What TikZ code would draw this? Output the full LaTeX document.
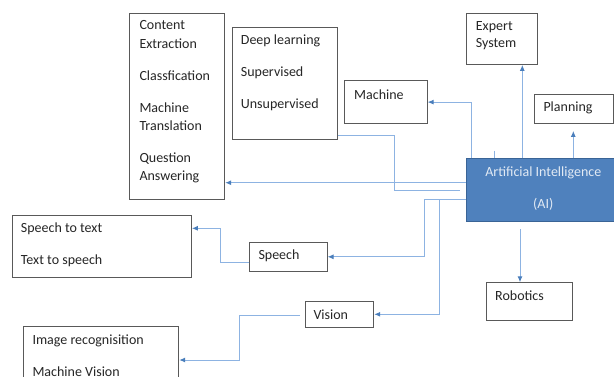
\documentclass[tikz,border=0pt]{standalone}
\usepackage{fontspec}
\setmainfont{Carlito}
\usetikzlibrary{arrows.meta,calc}
\definecolor{boxline}{HTML}{595959}
\definecolor{lineblue}{HTML}{8DB3E2}
\definecolor{arrowblue}{HTML}{4A7EBB}
\definecolor{aifill}{HTML}{4F81BD}
\definecolor{aiborder}{HTML}{3A6496}
\definecolor{aitext}{HTML}{E2EAF4}
\definecolor{textc}{HTML}{262626}
\tikzset{
  box/.style={draw=boxline, line width=0.9pt, fill=white, inner sep=0pt, anchor=north west},
  txt/.style={anchor=west, inner sep=0pt, text=textc, text height=9pt, text depth=0pt},
  conn/.style={draw=lineblue, line width=1pt, -{Latex[length=6pt,width=5pt,color=arrowblue]}},
  plain/.style={draw=lineblue, line width=1pt},
}
\begin{document}
\begin{tikzpicture}[x=1pt,y=-1pt,font=\fontsize{14}{16}\selectfont]
\useasboundingbox (0,0) rectangle (614,376);
% boxes
\node[box, minimum width=95pt, minimum height=186.3pt] (nlp) at (129.3,12.7) {};
\node[box, minimum width=105pt, minimum height=112pt] (deep) at (231.7,27.3) {};
\node[box, minimum width=82.7pt, minimum height=43.3pt] (machine) at (344,80) {};
\node[box, minimum width=70.7pt, minimum height=51.3pt] (expert) at (466,12.7) {};
\node[box, minimum width=78.7pt, minimum height=29.3pt] (planning) at (534,94) {};
\node[box, draw=aiborder, fill=aifill, line width=1.3pt, minimum width=155.3pt, minimum height=62.7pt] (ai) at (465.7,158) {};
\node[box, minimum width=179.3pt, minimum height=62.3pt] (stt) at (11.7,215) {};
\node[box, minimum width=77.4pt, minimum height=29.3pt] (speech) at (249.3,241.7) {};
\node[box, minimum width=68.3pt, minimum height=25.7pt] (vision) at (305,301) {};
\node[box, minimum width=86.6pt, minimum height=37.7pt] (robotics) at (485.7,282.3) {};
\node[box, minimum width=155.6pt, minimum height=60pt] (img) at (22.7,326) {};
% texts
\node[txt] (n1) at (139.3,25) {Content};
\node[txt] (n2) at (139.3,44) {Extraction};
\node[txt] (n3) at (139.3,76) {Classfication};
\node[txt] (n4) at (139.3,108) {Machine};
\node[txt] (n5) at (139.3,126) {Translation};
\node[txt] (n6) at (139.3,158) {Question};
\node[txt] (n7) at (139.3,176) {Answering};
\node[txt] (d1t) at (240.7,40) {Deep learning};
\node[txt] (d2t) at (240.7,71.5) {Supervised};
\node[txt] (d3t) at (240.7,103.5) {Unsupervised};
\node[txt] (mt) at (354,94.7) {Machine};
\node[txt] (e1) at (475.7,25.7) {Expert};
\node[txt] (e2) at (475.7,43.3) {System};
\node[txt] (pt) at (543.3,106.5) {Planning};
\node[inner sep=0pt, text=aitext] (ai1) at (543.3,173.3) {Artificial Intelligence};
\node[inner sep=0pt, text=aitext] (ai2) at (543.3,204) {(AI)};
\node[txt] (s1t) at (20.7,228) {Speech to text};
\node[txt] (s2t) at (20.7,259.5) {Text to speech};
\node[txt] (spt) at (258.3,255) {Speech};
\node[txt] (vt) at (313.3,315) {Vision};
\node[txt] (i1) at (32.3,339.5) {Image recognisition};
\node[txt] (i2) at (32.3,371.5) {Machine Vision};
\node[txt] (rt) at (495,295.7) {Robotics};
% helper coordinates
\coordinate (xe) at (522.3,0);
\coordinate (xp) at (573.3,0);
\coordinate (pl) at ([yshift=-6.7pt]planning.south);
\coordinate (yc) at (0,182.7);
\coordinate (dA) at (394.3,135);
\coordinate (dB) at (460,190.7);
\coordinate (sA) at (424.3,199.3);
\coordinate (vA) at (439.3,199.3);
\coordinate (stA) at (220,262.7);
\coordinate (stB) at (220,228.3);
\coordinate (viA) at (300,315);
\coordinate (viB) at (239,360);
\coordinate (rA) at (520,229);
\coordinate (kA) at (494.3,150.7);
% connectors
\draw[conn] ([xshift=6pt]ai.north west) |- (machine.east);
\draw[conn] (ai.north -| xe) -- (expert.south -| xe);
\draw[conn] (ai.north -| xp) -- (pl -| xp);
\draw[conn] (ai.west |- yc) -- (nlp.east |- yc);
\draw[plain] (deep.east |- dA) -| (dB -| dA) -- (dB);
\draw[conn] (ai.west |- sA) -- (sA) |- (speech.east);
\draw[conn] (vA) |- (vision.east);
\draw[conn] (speech.west |- stA) -- (stA) -- (stB) -- (stt.east |- stB);
\draw[conn] (viA) -| (viB) -- (img.east |- viB);
\draw[conn] (rA) -- (robotics.north -| rA);
\draw[plain] (kA) -- (ai.north -| kA);
\end{tikzpicture}
\end{document}
